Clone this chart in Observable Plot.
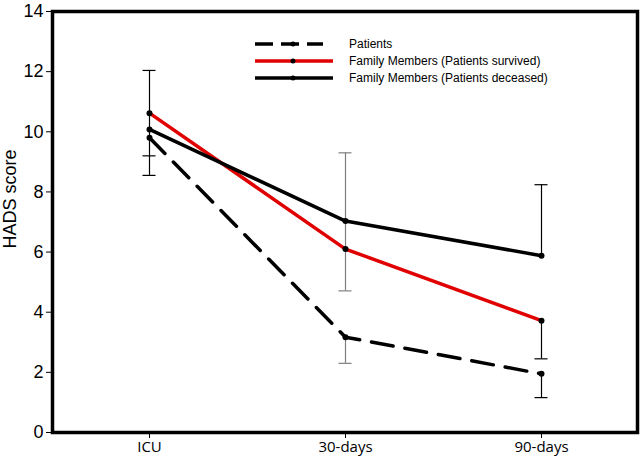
<!DOCTYPE html>
<html><head>
<meta charset="utf-8">
<script src="https://cdn.jsdelivr.net/npm/d3@7"></script>
<script src="https://cdn.jsdelivr.net/npm/@observablehq/plot@0.6"></script>
<style>
body{margin:0;background:#fff}
#wrap{position:relative;width:643px;height:459px}
#legend{position:absolute;left:0;top:0;pointer-events:none}
</style>
</head><body><div id="wrap"></div>
<script>
const timepoints = ["ICU", "30-days", "90-days"];
const seriesNames = ["Patients", "Family Members (Patients survived)", "Family Members (Patients deceased)"];
const patients = [9.8, 3.17, 1.95];
const survived = [10.62, 6.1, 3.72];
const deceased = [10.08, 7.03, 5.88];
const yTicks = [0, 2, 4, 6, 8, 10, 12, 14];
// error whiskers (vertical segments)
const whiskerTime = ["ICU", "30-days", "30-days", "90-days", "90-days", "90-days"];
const whiskerLow  = [8.55, 4.71, 2.3, 5.88, 2.45, 1.16];
const whiskerHigh = [12.04, 9.3, 3.17, 8.24, 3.72, 1.95];
// whisker caps
const capTime  = ["ICU", "ICU", "ICU", "30-days", "30-days", "30-days", "90-days", "90-days", "90-days"];
const capValue = [12.04, 9.2, 8.55, 9.3, 4.71, 2.3, 8.24, 2.45, 1.16];

const seriesValues = [patients, survived, deceased];
const rows = seriesNames.flatMap((s, si) => timepoints.map((t, ti) => ({series: s, time: t, value: seriesValues[si][ti]})));
const whiskers = whiskerTime.map((t, i) => ({time: t, low: whiskerLow[i], high: whiskerHigh[i]}));
const caps = capTime.map((t, i) => ({time: t, value: capValue[i]}));

const colorOf = {};
colorOf[seriesNames[0]] = "#000";
colorOf[seriesNames[1]] = "#e00000";
colorOf[seriesNames[2]] = "#000";
const whiskerColor = t => t === "30-days" ? "#7f7f7f" : "#000";

const marks = [
  Plot.axisY({ticks: yTicks, tickSize: 6, tickPadding: 3, fontSize: 18, fontFamily: "Liberation Sans, Arial, sans-serif", label: null}),
  Plot.axisX({tickSize: 6, tickPadding: 3, fontSize: 15, fontFamily: "Open Sans, sans-serif", label: null}),
  Plot.ruleX(whiskers, {x: "time", y1: "low", y2: "high", stroke: d => whiskerColor(d.time), strokeWidth: 1.2}),
  Plot.ruleY(caps, {y: "value", x1: "time", x2: "time", insetLeft: -6.5, insetRight: -6.5, stroke: d => whiskerColor(d.time), strokeWidth: 1.2}),
];
seriesNames.forEach((s, si) => {
  marks.push(Plot.line(rows.filter(d => d.series === s), {
    x: "time", y: "value", stroke: colorOf[s], strokeWidth: 3.5,
    strokeDasharray: si === 0 ? "22,12" : null
  }));
});
marks.push(Plot.dot(rows, {x: "time", y: "value", r: 3, fill: "#000"}));
marks.push(Plot.frame({stroke: "#000", strokeWidth: 3.5}));
marks.push(Plot.text(["HADS score"], {frameAnchor: "left", textAnchor: "middle", rotate: -90, dx: -42, dy: -23, fontSize: 18, fontFamily: "Liberation Sans, Arial, sans-serif", fill: "#000"}));

const chart = Plot.plot({
  width: 643,
  height: 459,
  marginLeft: 52,
  marginRight: 6,
  marginTop: 11,
  marginBottom: 27,
  style: {background: "#fff", color: "#000", fontFamily: "Liberation Sans, Arial, sans-serif"},
  x: {type: "point", domain: timepoints, padding: 0.49},
  y: {domain: [0, 14]},
  marks
});
const wrap = document.getElementById("wrap");
wrap.appendChild(chart);

// legend overlay
const ns = "http://www.w3.org/2000/svg";
const lg = document.createElementNS(ns, "svg");
lg.setAttribute("id", "legend");
lg.setAttribute("width", 643);
lg.setAttribute("height", 459);
const legendY = [44, 61, 78];
seriesNames.forEach((s, i) => {
  const y = legendY[i];
  const line = document.createElementNS(ns, "line");
  line.setAttribute("x1", 255); line.setAttribute("x2", i === 0 ? 323 : 333);
  line.setAttribute("y1", y); line.setAttribute("y2", y);
  line.setAttribute("stroke", colorOf[s]);
  line.setAttribute("stroke-width", 3.5);
  if (i === 0) line.setAttribute("stroke-dasharray", "18,8");
  lg.appendChild(line);
  const c = document.createElementNS(ns, "circle");
  c.setAttribute("cx", 293); c.setAttribute("cy", y); c.setAttribute("r", 2.5); c.setAttribute("fill", "#000");
  lg.appendChild(c);
  const t = document.createElementNS(ns, "text");
  t.setAttribute("x", 349); t.setAttribute("y", y + 4);
  t.setAttribute("font-size", 12);
  t.setAttribute("font-family", "Liberation Sans, Arial, sans-serif");
  t.setAttribute("fill", "#000");
  t.textContent = s;
  lg.appendChild(t);
});
wrap.appendChild(lg);
</script>
</body></html>
